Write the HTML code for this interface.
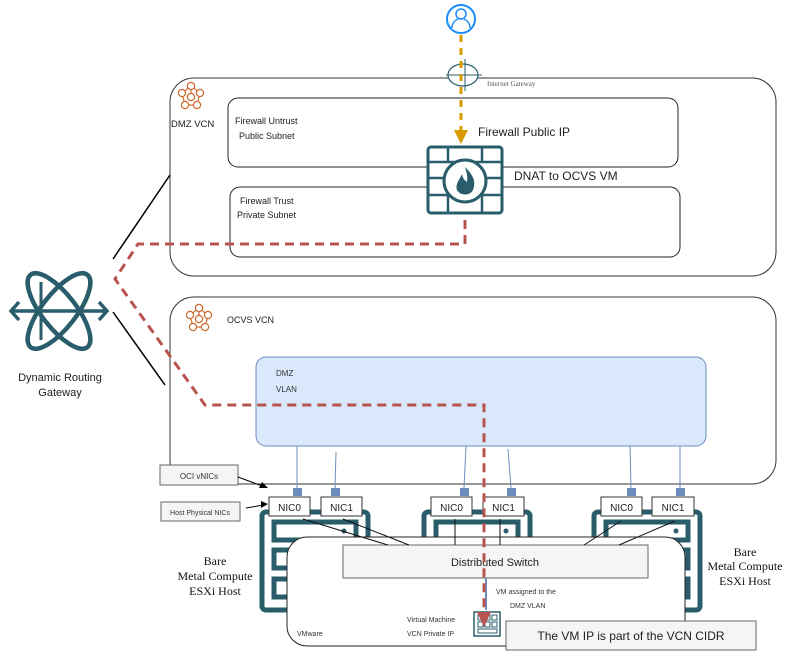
<!DOCTYPE html>
<html><head><meta charset="utf-8"><style>
html,body{margin:0;padding:0;background:#fff;width:810px;height:659px;overflow:hidden}
svg{display:block;font-family:"Liberation Sans",sans-serif}
</style></head><body>
<svg width="810" height="659" viewBox="0 0 810 659" xmlns="http://www.w3.org/2000/svg">
<!-- DMZ VCN -->
<rect x="170" y="78" width="606" height="198" rx="24" fill="#fff" stroke="#333" stroke-width="1"/>
<rect x="228" y="98" width="450" height="69" rx="10" fill="#fff" stroke="#222"/>
<rect x="230" y="187" width="450" height="70" rx="10" fill="#fff" stroke="#222"/>
<text x="171" y="127" font-size="9.5" fill="#222">DMZ VCN</text>
<text x="235" y="124" font-size="9" fill="#222">Firewall Untrust</text>
<text x="239" y="139" font-size="9" fill="#222">Public Subnet</text>
<text x="240" y="204" font-size="9" fill="#222">Firewall Trust</text>
<text x="237" y="218" font-size="9" fill="#222">Private Subnet</text>
<!-- VCN icons -->
<g fill="none" stroke="#d0692b" stroke-width="1.2">
<g id="vi"><circle cx="191" cy="86" r="3.6"/><circle cx="182" cy="93" r="3.6"/><circle cx="200" cy="93" r="3.6"/><circle cx="191" cy="97" r="3.6"/><circle cx="185" cy="105" r="3.6"/><circle cx="197" cy="105" r="3.6"/>
<line x1="188" y1="88" x2="185" y2="91"/><line x1="194" y1="88" x2="197" y2="91"/><line x1="183" y1="97" x2="184" y2="101"/><line x1="199" y1="97" x2="198" y2="101"/><line x1="189" y1="105" x2="193" y2="105"/><line x1="191" y1="90" x2="191" y2="93"/></g>
</g>
<!-- OCVS VCN -->
<rect x="170" y="297" width="606" height="187" rx="24" fill="#fff" stroke="#333"/>
<text x="227" y="323" font-size="9" fill="#222">OCVS VCN</text>
<use href="#vi" x="8" y="222" fill="none" stroke="#d0692b" stroke-width="1.2"/>
<rect x="256" y="357" width="450" height="89" rx="10" fill="#dae8fc" stroke="#6c8ebf"/>
<text x="276" y="376" font-size="8" fill="#333">DMZ</text>
<text x="276" y="392" font-size="8" fill="#333">VLAN</text>
<!-- vnic lines -->
<g stroke="#6c8ebf" stroke-width="1">
<line x1="297" y1="446" x2="297" y2="488"/><line x1="336" y1="452" x2="335" y2="488"/>
<line x1="466" y1="446" x2="464" y2="488"/><line x1="508" y1="449" x2="511" y2="488"/>
<line x1="630" y1="446" x2="631" y2="488"/><line x1="680" y1="446" x2="680" y2="488"/>
</g>
<g fill="#6c8ebf">
<rect x="293" y="488" width="9" height="8"/><rect x="331" y="488" width="9" height="8"/>
<rect x="460" y="488" width="9" height="8"/><rect x="507" y="488" width="9" height="8"/>
<rect x="627" y="488" width="9" height="8"/><rect x="676" y="488" width="9" height="8"/>
</g>
<!-- servers -->
<g fill="none" stroke="#2a5d6b" stroke-width="5">
<rect x="262" y="512" width="106" height="98" rx="4"/>
<rect x="424" y="512" width="106" height="98" rx="4"/>
<rect x="594" y="512" width="106" height="98" rx="4"/>
<rect x="274" y="522" width="82" height="18"/><rect x="436" y="522" width="82" height="18"/><rect x="606" y="522" width="82" height="18"/>
<rect x="274" y="550" width="82" height="18"/><rect x="436" y="550" width="82" height="18"/><rect x="606" y="550" width="82" height="18"/>
<rect x="274" y="579" width="82" height="18"/><rect x="436" y="579" width="82" height="18"/><rect x="606" y="579" width="82" height="18"/>
</g>
<circle cx="344" cy="531" r="2.5" fill="#2a5d6b"/><circle cx="506" cy="531" r="2.5" fill="#2a5d6b"/><circle cx="676" cy="531" r="2.5" fill="#2a5d6b"/>
<!-- NIC boxes -->
<g fill="#fff" stroke="#333"><rect x="269" y="497" width="41" height="19"/><rect x="321" y="497" width="41" height="19"/>
<rect x="431" y="497" width="41" height="19"/><rect x="483" y="497" width="41" height="19"/>
<rect x="601" y="497" width="41" height="19"/><rect x="652" y="497" width="42" height="19"/></g>
<g font-size="10" fill="#222" text-anchor="middle"><text x="289.5" y="511">NIC0</text><text x="341.5" y="511">NIC1</text>
<text x="451.5" y="511">NIC0</text><text x="503.5" y="511">NIC1</text><text x="621.5" y="511">NIC0</text><text x="673" y="511">NIC1</text></g>
<!-- VMware -->
<rect x="287" y="537" width="398" height="109" rx="20" fill="#fff" stroke="#222"/>
<rect x="343" y="545" width="305" height="33" fill="#f5f5f5" stroke="#666"/>
<text x="495" y="566" font-size="11" fill="#222" text-anchor="middle">Distributed Switch</text>
<g stroke="#111" stroke-width="1"><line x1="303" y1="519" x2="388" y2="545"/><line x1="343" y1="519" x2="409" y2="545"/>
<line x1="455" y1="519" x2="455" y2="545"/><line x1="500" y1="519" x2="500" y2="545"/>
<line x1="621" y1="521" x2="584" y2="545"/><line x1="675" y1="521" x2="619" y2="545"/></g>
<line x1="486" y1="578" x2="486" y2="610" stroke="#6c8ebf" stroke-width="2"/>
<text x="297" y="636" font-size="7" fill="#333">VMware</text>
<text x="407" y="622" font-size="7" fill="#333">Virtual Machine</text>
<text x="407" y="636" font-size="7" fill="#333">VCN Private IP</text>
<text x="496" y="594" font-size="7" fill="#333">VM assigned to the</text>
<text x="510" y="608" font-size="7" fill="#333">DMZ VLAN</text>
<rect x="474" y="612" width="26" height="24" fill="#fff" stroke="#2a5d6b" stroke-width="1.5"/>
<g fill="none" stroke="#2a5d6b" stroke-width="1"><rect x="478" y="615" width="5" height="5"/><rect x="485" y="615" width="5" height="5"/><rect x="492" y="615" width="5" height="5"/><rect x="478" y="622" width="5" height="5"/><rect x="485" y="622" width="5" height="5"/><rect x="492" y="622" width="5" height="5"/><rect x="478" y="629" width="19" height="4"/></g>
<rect x="506" y="621" width="250" height="29" fill="#f5f5f5" stroke="#666"/>
<text x="631" y="640" font-size="12" fill="#222" text-anchor="middle">The VM IP is part of the VCN CIDR</text>
<!-- labels -->
<rect x="160" y="465" width="78" height="20" fill="#f5f5f5" stroke="#666"/>
<text x="199" y="479" font-size="8" fill="#333" text-anchor="middle">OCI vNICs</text>
<rect x="161" y="502" width="79" height="19" fill="#f5f5f5" stroke="#666"/>
<text x="200" y="515" font-size="7" fill="#333" text-anchor="middle">Host Physical NICs</text>
<line x1="238" y1="477" x2="265" y2="487" stroke="#000"/><polygon points="268,488 259,488 262,482" fill="#000"/>
<line x1="246" y1="508" x2="264" y2="505" stroke="#000"/><polygon points="268,504 261,501 261,508" fill="#000"/>
<g font-family="Liberation Serif,serif" font-size="12" fill="#111" text-anchor="middle">
<text x="215" y="565">Bare</text><text x="215" y="580">Metal Compute</text><text x="215" y="595">ESXi Host</text>
<text x="745" y="556">Bare</text><text x="745" y="570">Metal Compute</text><text x="745" y="585">ESXi Host</text></g>
<!-- firewall -->
<rect x="428" y="147" width="74" height="66" rx="3" fill="#fff" stroke="#2a5d6b" stroke-width="3"/>
<g stroke="#2a5d6b" stroke-width="2.5"><line x1="428" y1="162" x2="502" y2="162"/><line x1="428" y1="178" x2="502" y2="178"/><line x1="428" y1="195" x2="502" y2="195"/>
<line x1="448" y1="147" x2="448" y2="162"/><line x1="482" y1="147" x2="482" y2="162"/><line x1="448" y1="195" x2="448" y2="213"/><line x1="482" y1="195" x2="482" y2="213"/></g>
<circle cx="465" cy="181" r="21" fill="#fff" stroke="#2a5d6b" stroke-width="3"/>
<path d="M465 167 C474 176 476 182 473 190 C470 196 460 196 457 190 C455 184 460 179 462 174 C463 180 466 181 467 182 C468 176 466 171 465 167Z" fill="#2a5d6b"/>
<text x="478" y="136" font-size="12" fill="#222">Firewall Public IP</text>
<text x="514" y="180" font-size="12" fill="#222">DNAT to OCVS VM</text>
<!-- user icon -->
<circle cx="461" cy="19" r="14" fill="#fff" stroke="#1a8cff" stroke-width="2"/>
<circle cx="461" cy="14" r="5" fill="none" stroke="#1a8cff" stroke-width="1.5"/>
<path d="M452 28 C452 22 456 20 458 19 M470 28 C470 22 466 20 464 19" fill="none" stroke="#1a8cff" stroke-width="1.5"/>
<!-- IGW -->
<ellipse cx="463" cy="75" rx="15" ry="11" fill="#fff" stroke="#2a5d6b" stroke-width="1.2"/>
<line x1="446" y1="75" x2="482" y2="75" stroke="#2a5d6b"/><line x1="465" y1="59" x2="465" y2="91" stroke="#2a5d6b"/>
<text x="487" y="86" font-size="7" font-family="Liberation Serif,serif" fill="#555">Internet Gateway</text>
<!-- orange dashed -->
<line x1="461" y1="35" x2="461" y2="132" stroke="#d79b00" stroke-width="3" stroke-dasharray="7,6"/>
<polygon points="454,130 468,130 461,144" fill="#d79b00"/>
<!-- DRG -->
<g fill="none" stroke="#2a5d6b" stroke-width="4.5">
<ellipse cx="59" cy="311" rx="17" ry="46" transform="rotate(-38 59 311)"/>
<ellipse cx="59" cy="311" rx="17" ry="46" transform="rotate(38 59 311)"/>
<line x1="12" y1="311" x2="106" y2="311" stroke-width="3.5"/>
<polyline points="19,302 11,311 19,320" stroke-width="3.5"/><polyline points="99,302 107,311 99,320" stroke-width="3.5"/>
<line x1="41" y1="282" x2="41" y2="340" stroke-width="3"/>
</g>
<text x="60" y="381" font-size="11" fill="#222" text-anchor="middle">Dynamic Routing</text>
<text x="60" y="396" font-size="11" fill="#222" text-anchor="middle">Gateway</text>
<line x1="113" y1="259" x2="170" y2="175" stroke="#000" stroke-width="1.5"/>
<line x1="113" y1="312" x2="165" y2="385" stroke="#000" stroke-width="1.5"/>
<!-- red dashed -->
<polyline points="465,220 465,244 138,244 115,279 205,405 484,405 484,614" fill="none" stroke="#b85450" stroke-width="3" stroke-dasharray="9,6"/>
<polygon points="477,612 491,612 484,627" fill="#b85450"/>
</svg>
</body></html>
